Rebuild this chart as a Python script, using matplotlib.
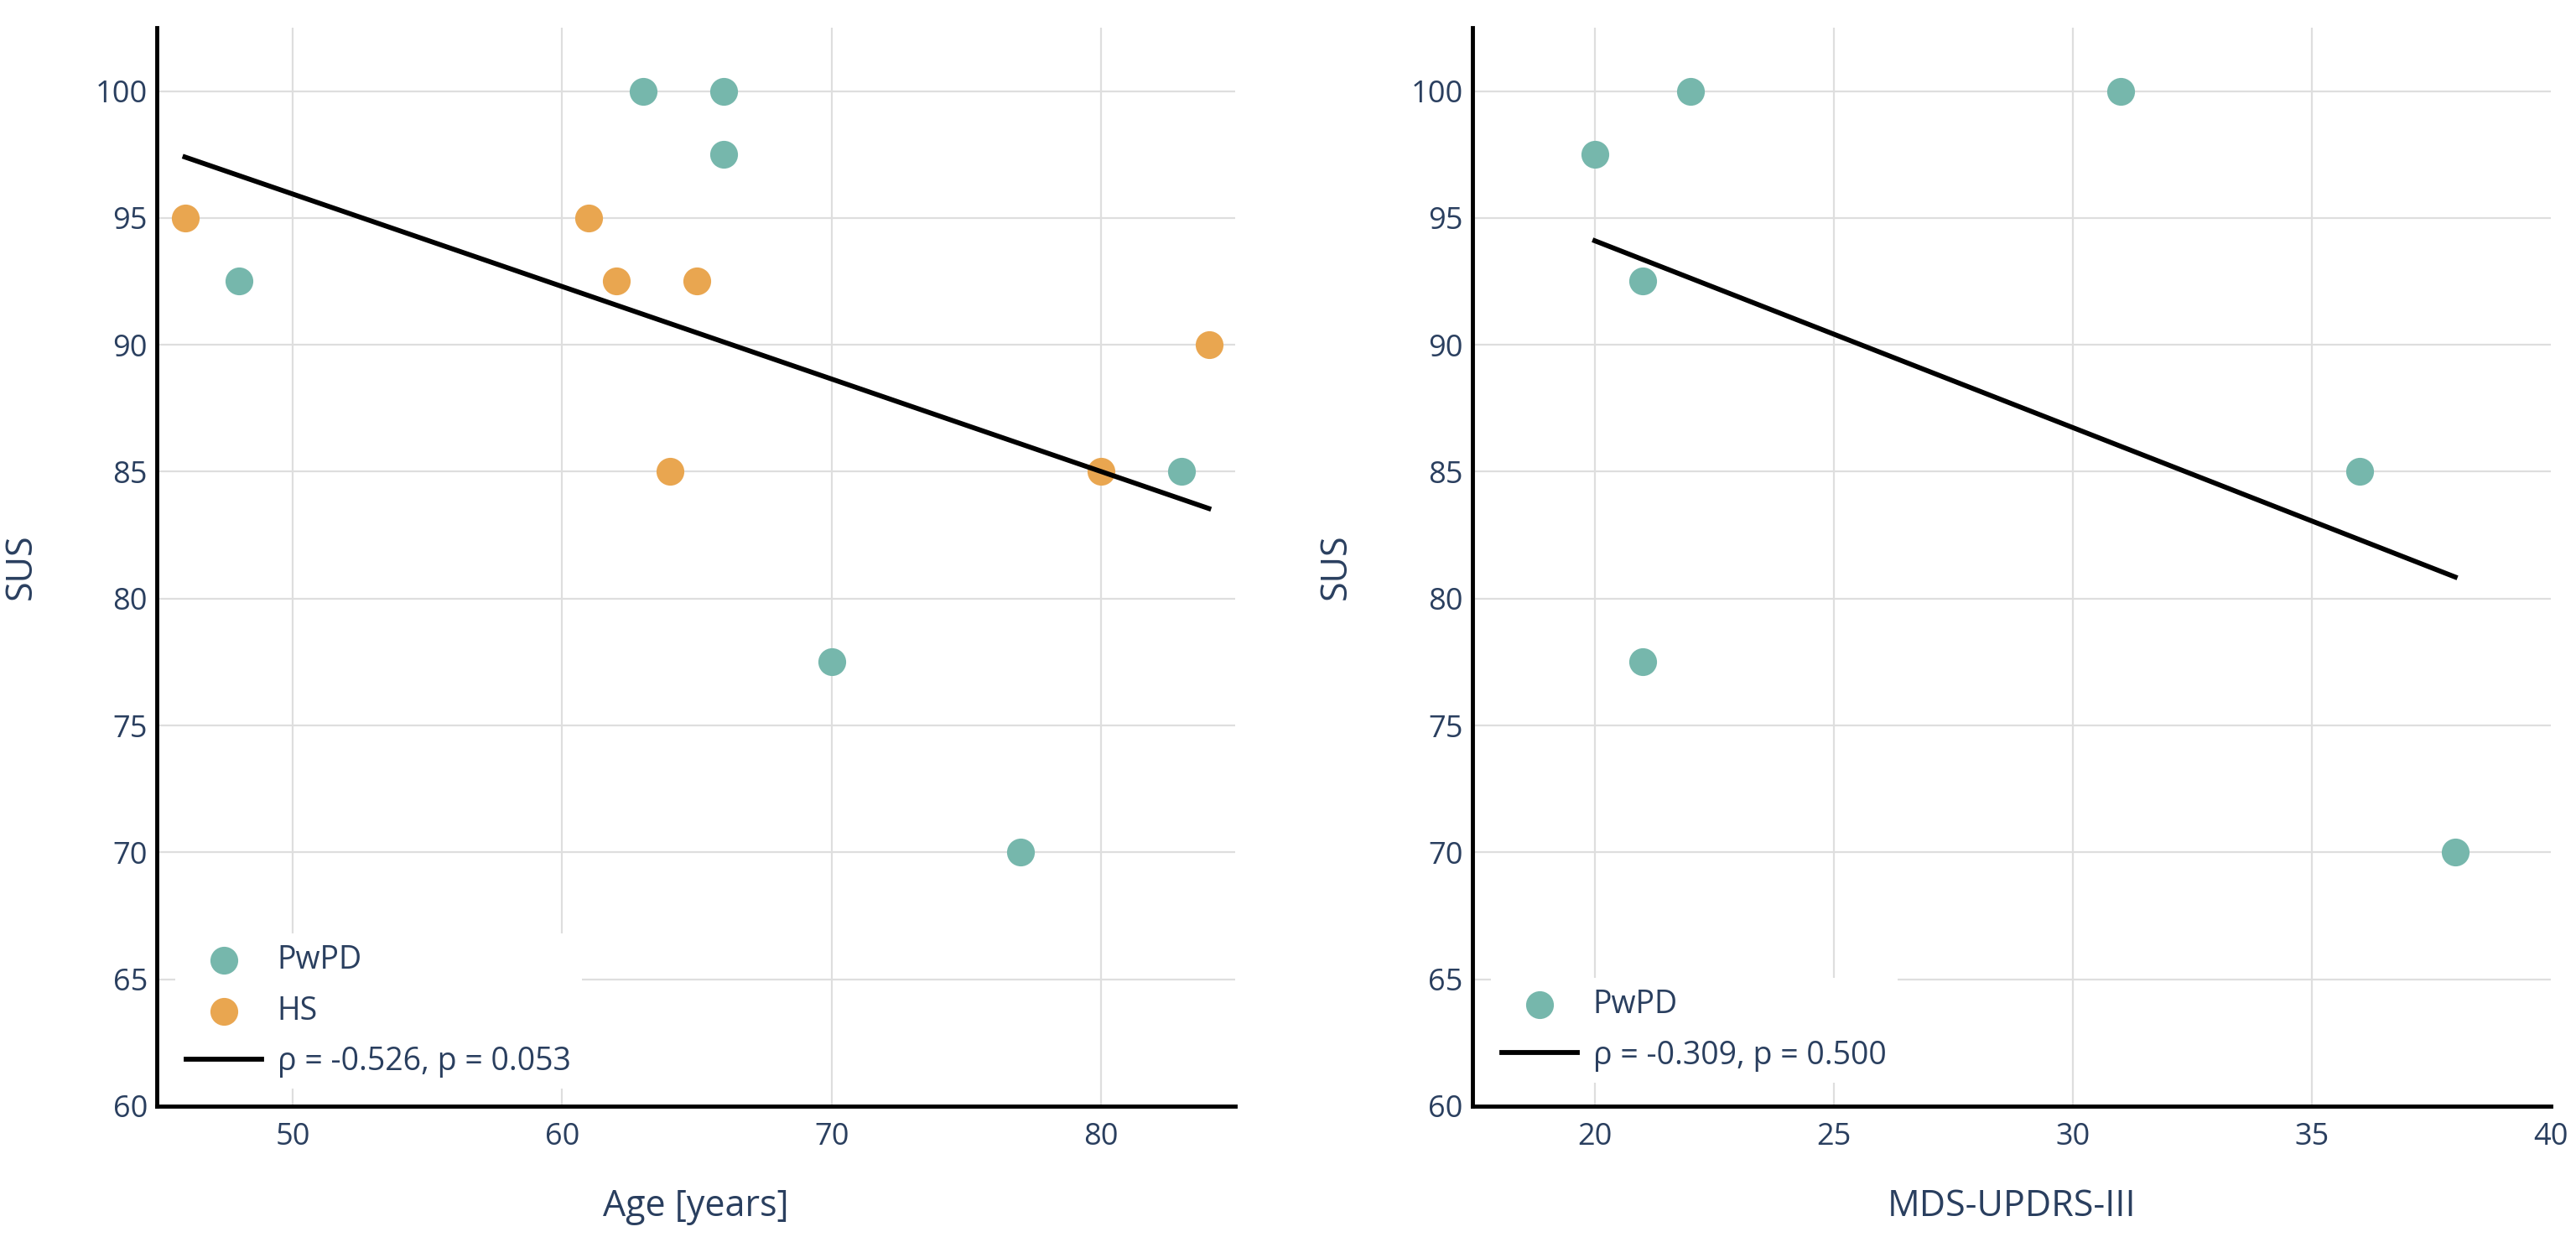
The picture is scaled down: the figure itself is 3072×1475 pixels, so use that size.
import matplotlib
matplotlib.use("Agg")
from matplotlib import pyplot as plt

# left panel: SUS vs age
pwpd_age = [63, 66, 66, 48, 83, 70, 77]
pwpd_age_sus = [100, 100, 97.5, 92.5, 85, 77.5, 70]
hs_age = [46, 61, 62, 65, 64, 80, 84]
hs_age_sus = [95, 95, 92.5, 92.5, 85, 85, 90]
age_fit_x = [46, 84]
age_fit_y = [97.4, 83.55]
age_label = "ρ = -0.526, p = 0.053"

# right panel: SUS vs MDS-UPDRS-III
pwpd_updrs = [20, 22, 31, 21, 21, 36, 38]
pwpd_updrs_sus = [97.5, 100, 100, 92.5, 77.5, 85, 70]
updrs_fit_x = [20, 38]
updrs_fit_y = [94.1, 80.85]
updrs_label = "ρ = -0.309, p = 0.500"

sus_ticks = [60, 65, 70, 75, 80, 85, 90, 95, 100]
age_ticks = [50, 60, 70, 80]
updrs_ticks = [20, 25, 30, 35, 40]

TEAL = "#76b7ac"
ORANGE = "#e9a650"
TEXT = "#2a3f5f"
GRID = "#dedede"

plt.rcParams['font.family'] = ['Open Sans', 'DejaVu Sans']

fig = plt.figure(figsize=(30.72, 14.75), dpi=100)
axL = fig.add_axes([0.0609, 0.1058, 0.4186, 0.8719])
axR = fig.add_axes([0.5716, 0.1058, 0.4186, 0.8719])


def style(ax, xticks, xlim, xlabel):
    ax.set_xlim(*xlim)
    ax.set_ylim(60, 102.5)
    ax.set_xticks(xticks)
    ax.set_yticks(sus_ticks)
    ax.grid(True, color=GRID, lw=1.6, zorder=0)
    ax.set_axisbelow(True)
    for s in ['top', 'right']:
        ax.spines[s].set_visible(False)
    for s in ['left', 'bottom']:
        ax.spines[s].set_linewidth(3.5)
        ax.spines[s].set_color('black')
        ax.spines[s].set_zorder(5)
    ax.tick_params(axis='x', length=0, pad=14, labelsize=26, labelcolor=TEXT)
    ax.tick_params(axis='y', length=0, pad=8, labelsize=26, labelcolor=TEXT)
    ax.set_xlabel(xlabel, fontsize=31, color=TEXT, va='center')
    ax.set_ylabel("SUS", fontsize=31, color=TEXT, va='center')
    ax.xaxis.set_label_coords(0.5, -0.0933)
    ax.yaxis.set_label_coords(-0.126, 0.5)


style(axL, age_ticks, (44.96, 84.98), "Age [years]")
style(axR, updrs_ticks, (17.44, 40), "MDS-UPDRS-III")

axL.scatter(pwpd_age, pwpd_age_sus, s=570, color=TEAL, lw=0, label="PwPD", zorder=3)
axL.scatter(hs_age, hs_age_sus, s=570, color=ORANGE, lw=0, label="HS", zorder=3)
axL.plot(age_fit_x, age_fit_y, color='black', lw=4.2, label=age_label, zorder=4)

axR.scatter(pwpd_updrs, pwpd_updrs_sus, s=570, color=TEAL, lw=0, label="PwPD", zorder=3)
axR.plot(updrs_fit_x, updrs_fit_y, color='black', lw=4.2, label=updrs_label, zorder=4)

# no gridline on the right edge at x=40
fig.canvas.draw()
for gl, t in zip(axR.get_xgridlines(), axR.get_xticks()):
    if t >= 40:
        gl.set_visible(False)

for ax, y0 in ((axL, 0.016), (axR, 0.022)):
    leg = ax.legend(loc='lower left', bbox_to_anchor=(0.017, y0), borderaxespad=0,
                    frameon=True, facecolor='white', edgecolor='none', framealpha=1,
                    fancybox=False, fontsize=27, handlelength=2.4, handletextpad=0.5,
                    labelspacing=0.6, borderpad=0.35, scatterpoints=1)
    leg.set_zorder(6)
    for t in leg.get_texts():
        t.set_color(TEXT)

fig.savefig("out.png", dpi=100, facecolor='white')
